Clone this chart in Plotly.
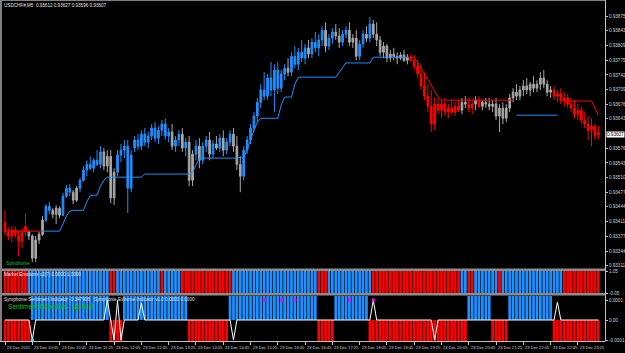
import plotly.graph_objects as go

W, H = 625, 353
FONT = "Liberation Sans"
BLUE, GRAY, RED = "#1E90FF", "#A8A8A8", "#FF0000"

# ---------------- data ----------------
time_labels = ["23 Dec 2011", "23 Dec 10:05", "23 Dec 10:45", "23 Dec 11:25", "23 Dec 12:05",
               "23 Dec 12:45", "23 Dec 13:25", "23 Dec 14:05", "23 Dec 14:45", "23 Dec 15:25",
               "23 Dec 16:05", "23 Dec 16:45", "23 Dec 17:25", "23 Dec 18:05", "23 Dec 18:45",
               "23 Dec 19:25", "23 Dec 20:05", "23 Dec 20:45", "23 Dec 21:25", "23 Dec 22:05",
               "23 Dec 22:45", "23 Dec 23:25"]
bars_per_label = 8

price_ticks = [0.93875, 0.93843, 0.93809, 0.93775, 0.93742, 0.93709, 0.93676, 0.93643,
               0.93576, 0.93543, 0.93510, 0.93477, 0.93444, 0.93411, 0.93377, 0.93344, 0.93311]
price_tick_text = ["0.93875", "0.93843", "0.93809", "0.93775", "0.93742", "0.93709", "0.93676", "0.93643",
                   "0.93576", "0.93543", "0.93510", "0.93477", "0.93444", "0.93411", "0.93377", "0.93344", "0.93311"]
last_price = 0.93607

opens = [0.93409, 0.93387, 0.93378, 0.93391, 0.93380, 0.93366, 0.93400, 0.93387, 0.93378, 0.93328,
         0.93369, 0.93382, 0.93414, 0.93445, 0.93436, 0.93427, 0.93441, 0.93425, 0.93468, 0.93486,
         0.93477, 0.93459, 0.93486, 0.93504, 0.93527, 0.93540, 0.93531, 0.93549, 0.93540, 0.93568,
         0.93536, 0.93558, 0.93464, 0.93522, 0.93561, 0.93572, 0.93581, 0.93486, 0.93577, 0.93595,
         0.93581, 0.93608, 0.93590, 0.93604, 0.93622, 0.93599, 0.93617, 0.93631, 0.93604, 0.93613,
         0.93581, 0.93595, 0.93608, 0.93577, 0.93590, 0.93504, 0.93563, 0.93581, 0.93549, 0.93581,
         0.93595, 0.93563, 0.93586, 0.93577, 0.93599, 0.93572, 0.93590, 0.93608, 0.93581, 0.93540,
         0.93513, 0.93572, 0.93595, 0.93622, 0.93649, 0.93680, 0.93708, 0.93694, 0.93735, 0.93708,
         0.93753, 0.93712, 0.93744, 0.93757, 0.93748, 0.93784, 0.93766, 0.93793, 0.93780, 0.93803,
         0.93789, 0.93816, 0.93803, 0.93821, 0.93843, 0.93807, 0.93825, 0.93839, 0.93830, 0.93816,
         0.93834, 0.93843, 0.93816, 0.93825, 0.93784, 0.93812, 0.93834, 0.93825, 0.93857, 0.93834,
         0.93821, 0.93793, 0.93807, 0.93780, 0.93789, 0.93784, 0.93780, 0.93787, 0.93775, 0.93782,
         0.93775, 0.93762, 0.93744, 0.93717, 0.93694, 0.93671, 0.93631, 0.93676, 0.93662, 0.93676,
         0.93658, 0.93667, 0.93658, 0.93671, 0.93662, 0.93680, 0.93676, 0.93667, 0.93676, 0.93685,
         0.93671, 0.93680, 0.93676, 0.93671, 0.93676, 0.93649, 0.93667, 0.93644, 0.93667, 0.93690,
         0.93703, 0.93694, 0.93708, 0.93717, 0.93708, 0.93721, 0.93712, 0.93721, 0.93735, 0.93721,
         0.93703, 0.93708, 0.93694, 0.93699, 0.93685, 0.93690, 0.93676, 0.93667, 0.93653, 0.93662,
         0.93640, 0.93631, 0.93617, 0.93626, 0.93612]
highs = [0.93436, 0.93396, 0.93400, 0.93400, 0.93391, 0.93396, 0.93430, 0.93391, 0.93382, 0.93378,
         0.93387, 0.93423, 0.93450, 0.93455, 0.93441, 0.93448, 0.93445, 0.93475, 0.93493, 0.93495,
         0.93482, 0.93491, 0.93509, 0.93536, 0.93549, 0.93558, 0.93554, 0.93572, 0.93581, 0.93577,
         0.93572, 0.93572, 0.93531, 0.93572, 0.93586, 0.93595, 0.93595, 0.93572, 0.93604, 0.93608,
         0.93617, 0.93622, 0.93613, 0.93631, 0.93635, 0.93626, 0.93640, 0.93644, 0.93622, 0.93631,
         0.93604, 0.93617, 0.93622, 0.93599, 0.93604, 0.93572, 0.93595, 0.93599, 0.93590, 0.93604,
         0.93613, 0.93595, 0.93604, 0.93608, 0.93617, 0.93599, 0.93617, 0.93622, 0.93604, 0.93558,
         0.93581, 0.93604, 0.93631, 0.93658, 0.93690, 0.93721, 0.93748, 0.93744, 0.93771, 0.93766,
         0.93771, 0.93753, 0.93766, 0.93780, 0.93793, 0.93807, 0.93803, 0.93821, 0.93812, 0.93821,
         0.93825, 0.93839, 0.93834, 0.93852, 0.93861, 0.93834, 0.93848, 0.93857, 0.93848, 0.93843,
         0.93852, 0.93861, 0.93834, 0.93843, 0.93821, 0.93843, 0.93852, 0.93873, 0.93866, 0.93861,
         0.93830, 0.93816, 0.93812, 0.93798, 0.93803, 0.93793, 0.93793, 0.93798, 0.93789, 0.93789,
         0.93787, 0.93775, 0.93766, 0.93748, 0.93721, 0.93708, 0.93690, 0.93690, 0.93685, 0.93690,
         0.93676, 0.93685, 0.93680, 0.93685, 0.93690, 0.93694, 0.93690, 0.93685, 0.93694, 0.93694,
         0.93685, 0.93690, 0.93690, 0.93685, 0.93690, 0.93676, 0.93680, 0.93676, 0.93699, 0.93712,
         0.93721, 0.93717, 0.93730, 0.93735, 0.93726, 0.93739, 0.93730, 0.93748, 0.93753, 0.93730,
         0.93717, 0.93717, 0.93708, 0.93712, 0.93703, 0.93699, 0.93690, 0.93685, 0.93676, 0.93671,
         0.93658, 0.93649, 0.93644, 0.93631, 0.93627]
lows = [0.93378, 0.93369, 0.93364, 0.93373, 0.93332, 0.93351, 0.93378, 0.93369, 0.93319, 0.93319,
        0.93360, 0.93378, 0.93409, 0.93427, 0.93418, 0.93405, 0.93418, 0.93423, 0.93464, 0.93468,
        0.93450, 0.93455, 0.93477, 0.93500, 0.93513, 0.93527, 0.93522, 0.93536, 0.93531, 0.93527,
        0.93522, 0.93452, 0.93448, 0.93513, 0.93545, 0.93554, 0.93430, 0.93477, 0.93568, 0.93572,
        0.93572, 0.93581, 0.93577, 0.93595, 0.93590, 0.93586, 0.93604, 0.93595, 0.93590, 0.93572,
        0.93568, 0.93581, 0.93568, 0.93558, 0.93491, 0.93491, 0.93549, 0.93531, 0.93540, 0.93568,
        0.93549, 0.93554, 0.93572, 0.93568, 0.93558, 0.93563, 0.93581, 0.93568, 0.93527, 0.93477,
        0.93504, 0.93563, 0.93586, 0.93613, 0.93635, 0.93667, 0.93685, 0.93685, 0.93694, 0.93658,
        0.93699, 0.93703, 0.93730, 0.93739, 0.93739, 0.93757, 0.93753, 0.93771, 0.93766, 0.93780,
        0.93780, 0.93793, 0.93784, 0.93807, 0.93793, 0.93798, 0.93812, 0.93821, 0.93803, 0.93807,
        0.93825, 0.93807, 0.93803, 0.93775, 0.93775, 0.93803, 0.93816, 0.93816, 0.93825, 0.93807,
        0.93784, 0.93780, 0.93771, 0.93771, 0.93775, 0.93766, 0.93775, 0.93771, 0.93766, 0.93771,
        0.93753, 0.93735, 0.93708, 0.93685, 0.93658, 0.93613, 0.93617, 0.93653, 0.93644, 0.93649,
        0.93644, 0.93653, 0.93649, 0.93658, 0.93653, 0.93667, 0.93658, 0.93653, 0.93662, 0.93667,
        0.93662, 0.93667, 0.93662, 0.93658, 0.93640, 0.93613, 0.93631, 0.93635, 0.93658, 0.93680,
        0.93685, 0.93685, 0.93694, 0.93699, 0.93694, 0.93703, 0.93703, 0.93708, 0.93712, 0.93694,
        0.93690, 0.93685, 0.93680, 0.93676, 0.93671, 0.93667, 0.93658, 0.93644, 0.93640, 0.93631,
        0.93622, 0.93595, 0.93581, 0.93595, 0.93596]
closes = [0.93387, 0.93378, 0.93391, 0.93380, 0.93366, 0.93387, 0.93387, 0.93378, 0.93328, 0.93369,
          0.93382, 0.93414, 0.93445, 0.93436, 0.93427, 0.93441, 0.93425, 0.93468, 0.93486, 0.93477,
          0.93459, 0.93486, 0.93504, 0.93527, 0.93540, 0.93531, 0.93549, 0.93540, 0.93568, 0.93536,
          0.93558, 0.93464, 0.93522, 0.93561, 0.93572, 0.93581, 0.93486, 0.93561, 0.93595, 0.93581,
          0.93608, 0.93590, 0.93604, 0.93622, 0.93599, 0.93617, 0.93631, 0.93604, 0.93613, 0.93581,
          0.93595, 0.93608, 0.93577, 0.93590, 0.93504, 0.93563, 0.93581, 0.93549, 0.93581, 0.93595,
          0.93563, 0.93586, 0.93577, 0.93599, 0.93572, 0.93590, 0.93608, 0.93581, 0.93540, 0.93513,
          0.93572, 0.93595, 0.93622, 0.93649, 0.93680, 0.93708, 0.93694, 0.93735, 0.93708, 0.93753,
          0.93712, 0.93744, 0.93757, 0.93748, 0.93784, 0.93766, 0.93793, 0.93780, 0.93803, 0.93789,
          0.93816, 0.93803, 0.93821, 0.93843, 0.93807, 0.93825, 0.93839, 0.93830, 0.93816, 0.93834,
          0.93843, 0.93816, 0.93825, 0.93784, 0.93812, 0.93834, 0.93825, 0.93857, 0.93834, 0.93821,
          0.93793, 0.93807, 0.93780, 0.93789, 0.93784, 0.93780, 0.93787, 0.93775, 0.93782, 0.93775,
          0.93762, 0.93744, 0.93717, 0.93694, 0.93671, 0.93631, 0.93676, 0.93662, 0.93676, 0.93658,
          0.93667, 0.93658, 0.93671, 0.93662, 0.93680, 0.93676, 0.93667, 0.93676, 0.93685, 0.93671,
          0.93680, 0.93676, 0.93671, 0.93676, 0.93649, 0.93667, 0.93644, 0.93667, 0.93690, 0.93703,
          0.93694, 0.93708, 0.93717, 0.93708, 0.93721, 0.93712, 0.93721, 0.93735, 0.93721, 0.93703,
          0.93708, 0.93694, 0.93699, 0.93685, 0.93690, 0.93676, 0.93667, 0.93653, 0.93662, 0.93640,
          0.93631, 0.93617, 0.93626, 0.93604, 0.93607]

# candle colour state (run-length): B = blue/up, G = gray/neutral, R = red/down
candle_runs = [("R", 7), ("G", 5), ("B", 2), ("G", 3), ("B", 3), ("G", 2), ("B", 7), ("G", 4), ("B", 3),
               ("B", 1), ("B", 12), ("G", 1), ("B", 2), ("G", 1), ("B", 1), ("G", 2), ("B", 1), ("G", 1),
               ("B", 2), ("G", 1), ("B", 1), ("G", 1), ("B", 1), ("G", 1), ("B", 2), ("G", 3), ("B", 13),
               ("G", 1), ("B", 5), ("G", 1), ("B", 4), ("G", 1), ("B", 2), ("G", 2), ("B", 2), ("G", 3),
               ("B", 2), ("G", 1), ("B", 1), ("G", 11), ("R", 15), ("G", 2), ("R", 2), ("G", 1), ("R", 1),
               ("G", 21), ("R", 14)]

# Symphonie trailing line
stop_line = [0.93389, 0.93389, 0.93389, 0.93389, 0.93389, 0.93389, 0.93389, 0.93389, 0.93389, 0.93389,
             0.93389, 0.93389, 0.93389, 0.93389, 0.93389, 0.93389, 0.93389, 0.93405, 0.93423, 0.93434,
             0.93436, 0.93436, 0.93436, 0.93436, 0.93455, 0.93470, 0.93470, 0.93470, 0.93491, 0.93504,
             0.93511, 0.93511, 0.93511, 0.93511, 0.93511, 0.93511, 0.93511, 0.93511, 0.93511, 0.93511,
             0.93511, 0.93518, 0.93518, 0.93518, 0.93518, 0.93518, 0.93518, 0.93518, 0.93518, 0.93518,
             0.93518, 0.93518, 0.93518, 0.93518, 0.93518, 0.93522, 0.93538, 0.93554, 0.93554, 0.93554,
             0.93554, 0.93554, 0.93554, 0.93554, 0.93554, 0.93554, 0.93554, 0.93554, 0.93554, 0.93556,
             0.93556, 0.93572, 0.93595, 0.93617, 0.93635, 0.93644, 0.93644, 0.93644, 0.93644, 0.93644,
             0.93644, 0.93674, 0.93692, 0.93692, 0.93692, 0.93721, 0.93737, 0.93737, 0.93737, 0.93737,
             0.93737, 0.93737, 0.93737, 0.93737, 0.93737, 0.93737, 0.93737, 0.93737, 0.93748, 0.93760,
             0.93769, 0.93769, 0.93769, 0.93769, 0.93769, 0.93769, 0.93769, 0.93769, 0.93782, 0.93782,
             0.93782, 0.93782, 0.93782, 0.93782, 0.93782, 0.93782, 0.93782, 0.93782, 0.93782, 0.93782,
             0.93780, 0.93771, 0.93757, 0.93744, 0.93730, 0.93717, 0.93703, 0.93692, 0.93685, 0.93685,
             0.93685, 0.93685, 0.93685, 0.93685, 0.93685, 0.93685, 0.93685, 0.93685, 0.93685, 0.93685,
             0.93685, 0.93685, 0.93685, 0.93685, 0.93685, 0.93685, 0.93685, 0.93685, 0.93685, 0.93685,
             0.93651, 0.93651, 0.93651, 0.93651, 0.93651, 0.93651, 0.93651, 0.93651, 0.93651, 0.93651,
             0.93651, 0.93651, 0.93651, 0.93683, 0.93683, 0.93683, 0.93683, 0.93683, 0.93683, 0.93683,
             0.93683, 0.93683, 0.93683, 0.93667, 0.93651]
stop_runs = [("D", 12), ("U", 107), ("D", 31), ("U", 13), ("D", 12)]

# Market Emotions state per bar
emotion_runs = [("R", 7), ("B", 24), ("R", 2), ("B", 13), ("R", 1), ("B", 5), ("R", 15), ("B", 25),
                ("R", 3), ("B", 13), ("R", 26), ("B", 2), ("R", 2), ("B", 7), ("R", 1), ("B", 18), ("R", 11)]

# Sentiment histogram direction per bar (+1 bull, -1 bear)
sentiment_runs = [(-1, 8), (1, 23), (-1, 4), (1, 19), (-1, 12), (1, 26), (-1, 5), (1, 10),
                  (-1, 29), (1, 7), (-1, 5), (1, 13), (-1, 14)]
# Sentiment indicator line: zero except these bars
sentiment_spikes = {8: -0.0001, 30: 0.0001, 32: -0.0001, 33: 0.0001, 34: -0.0001, 40: 0.000085,
                    67: -0.0001, 108: 0.0001, 126: -0.0001, 162: 0.00009}
extreme_bull_bars = [76, 81, 85, 101, 108]
extreme_bear_bars = [8]

# ---------------- build ----------------
def expand(runs):
    out = []
    for v, n in runs:
        out += [v] * n
    return out

candle_state = expand(candle_runs)
stop_state = expand(stop_runs)
emotion_state = expand(emotion_runs)
sentiment_dir = expand(sentiment_runs)
N = len(closes)
assert all(len(a) == N for a in [opens, highs, lows, candle_state, stop_line, stop_state,
                                  emotion_state, sentiment_dir])
bars = list(range(N))
sentiment_line = [sentiment_spikes.get(i, 0.0) for i in bars]

fig = go.Figure()

colmap = {"B": BLUE, "G": GRAY, "R": RED}
for key in ["G", "B", "R"]:
    idx = [i for i in bars if candle_state[i] == key]
    c = colmap[key]
    fig.add_trace(go.Candlestick(
        x=idx, open=[opens[i] for i in idx], high=[highs[i] for i in idx],
        low=[lows[i] for i in idx], close=[closes[i] for i in idx],
        increasing=dict(line=dict(color=c, width=1), fillcolor=c),
        decreasing=dict(line=dict(color=c, width=1), fillcolor=c),
        whiskerwidth=0, showlegend=False, hoverinfo="skip", xaxis="x", yaxis="y"))

# trailing line segments
start = 0
for i in range(1, N + 1):
    if i == N or stop_state[i] != stop_state[start]:
        s = start
        if s > 0 and stop_line[s - 1] == stop_line[s]:
            s -= 1
        xs = bars[s:i]
        fig.add_trace(go.Scatter(x=xs, y=stop_line[s:i], mode="lines",
                                 line=dict(color=BLUE if stop_state[start] == "U" else RED, width=1),
                                 showlegend=False, hoverinfo="skip", xaxis="x", yaxis="y"))
        start = i

# emotions histogram
EMO_LO, EMO_HI = -0.05, 1.05
fig.add_trace(go.Bar(x=bars, y=[EMO_HI - EMO_LO] * N, base=EMO_LO,
                     marker=dict(color=[colmap[s] for s in emotion_state], line=dict(width=0)),
                     showlegend=False, hoverinfo="skip", xaxis="x2", yaxis="y2"))

# sentiment histogram
S_LO, S_HI = -0.000105, 0.00012
fig.add_trace(go.Bar(x=bars, y=[S_HI if d > 0 else S_LO for d in sentiment_dir], base=0,
                     marker=dict(color=[BLUE if d > 0 else RED for d in sentiment_dir], line=dict(width=0)),
                     showlegend=False, hoverinfo="skip", xaxis="x3", yaxis="y3"))
fig.add_trace(go.Scatter(x=bars, y=sentiment_line, mode="lines", line=dict(color="#FFFFFF", width=1),
                         showlegend=False, hoverinfo="skip", xaxis="x3", yaxis="y3"))
fig.add_trace(go.Scatter(x=extreme_bull_bars, y=[0.0001] * len(extreme_bull_bars), mode="markers",
                         marker=dict(color="#FF00FF", size=3, symbol="square"),
                         showlegend=False, hoverinfo="skip", xaxis="x3", yaxis="y3"))
fig.add_trace(go.Scatter(x=extreme_bear_bars, y=[-0.0001] * len(extreme_bear_bars), mode="markers",
                         marker=dict(color="#00FFFF", size=3, symbol="square"),
                         showlegend=False, hoverinfo="skip", xaxis="x3", yaxis="y3"))

# ---------------- layout ----------------
def py(y):
    return 1 - y / H

def px(x):
    return x / W

XD = [px(2), px(605)]
xr = [-0.88, 175.95]
tick_bars = [k * bars_per_label for k in range(len(time_labels))]
axis_font = dict(family=FONT, size=4.6, color="#D0D0D0")

common_x = dict(domain=XD, range=xr, showgrid=False, zeroline=False, showline=False, fixedrange=True)
fig.update_layout(
    width=W, height=H, margin=dict(l=0, r=0, t=0, b=0),
    paper_bgcolor="#000000", plot_bgcolor="#000000",
    bargap=0.2, showlegend=False, template="none",
    xaxis=dict(**common_x, anchor="y", showticklabels=False, ticks="", rangeslider=dict(visible=False)),
    xaxis2=dict(**common_x, anchor="y2", showticklabels=False, ticks=""),
    xaxis3=dict(**common_x, anchor="y3", showticklabels=False, ticks="outside", ticklen=3,
                tickcolor="#C0C0C0", tickvals=tick_bars),
    yaxis=dict(domain=[py(267), py(1)], range=[0.93308, 0.93909], side="right", anchor="x",
               tickvals=price_ticks, ticktext=price_tick_text, ticks="outside", ticklen=2,
               tickcolor="#C0C0C0", tickfont=axis_font, showgrid=False, zeroline=False,
               automargin=False, fixedrange=True),
    yaxis2=dict(domain=[py(293), py(271)], range=[EMO_LO, EMO_HI], side="right", anchor="x2",
                tickvals=[1.05, -0.05], ticktext=["1.05", "-0.05"], ticks="outside", ticklen=2,
                tickcolor="#C0C0C0", tickfont=axis_font, showgrid=False, zeroline=False,
                automargin=False, fixedrange=True),
    yaxis3=dict(domain=[py(341), py(296)], range=[S_LO, S_HI], side="right", anchor="x3",
                tickvals=[0.0001, 0, -0.0001], ticktext=["0.0001", "0.00", "-0.0001"], ticks="outside",
                ticklen=2, tickcolor="#C0C0C0", tickfont=axis_font, showgrid=False, zeroline=False,
                automargin=False, fixedrange=True),
)

shapes = [
    dict(type="rect", xref="paper", yref="paper", x0=0, x1=px(605), y0=py(271), y1=py(268.5),
         fillcolor="#8C8C8C", line=dict(width=0)),
    dict(type="rect", xref="paper", yref="paper", x0=0, x1=px(605), y0=py(295.5), y1=py(293),
         fillcolor="#8C8C8C", line=dict(width=0)),
    dict(type="rect", xref="paper", yref="paper", x0=0, x1=px(2), y0=py(341), y1=1,
         fillcolor="#808080", line=dict(width=0)),
    dict(type="line", xref="paper", yref="paper", x0=0, x1=px(605), y0=py(0.5), y1=py(0.5),
         line=dict(color="#808080", width=1)),
    dict(type="line", xref="paper", yref="paper", x0=px(605.5), x1=px(605.5), y0=py(341), y1=1,
         line=dict(color="#C0C0C0", width=1)),
    dict(type="line", xref="paper", yref="paper", x0=0, x1=px(605.5), y0=py(341.5), y1=py(341.5),
         line=dict(color="#C0C0C0", width=1)),
]
fig.update_layout(shapes=shapes)

def ann(text, x, y, size, color, **kw):
    d = dict(text=text, x=px(x), y=py(y), xref="paper", yref="paper", xanchor="left",
             yanchor="middle", showarrow=False, font=dict(family=FONT, size=size, color=color))
    d.update(kw)
    return d

anns = [
    ann("USDCHF#,M5  0.93612 0.93627 0.93596 0.93607", 2, 5, 4.6, "#E0E0E0"),
    ann("Symphonie", 4, 263, 4.8, "#00C040"),
    ann("Market Emotions v2(7) 0.0000 1.0000", 2, 274.5, 4.6, "#E8E8E8"),
    ann("Symphonie Sentiment Indicator -0.347906   Symphonie Extreme Indicator v1.0 0.0000 0.0000",
        2, 299.5, 4.6, "#E0E0E0"),
    ann("Sentiment Direction - Up-Bull", 6, 306.5, 6.6, "#00C800"),
    ann("0.93607", 606, 134, 4.6, "#000000", bgcolor="#FFFFFF", borderpad=0),
]
for lab, b in zip(time_labels, tick_bars):
    anns.append(dict(text=lab, x=b, xref="x3", y=py(347.5), yref="paper", xanchor="left",
                     yanchor="middle", showarrow=False,
                     font=dict(family=FONT, size=4.1, color="#D0D0D0")))
fig.update_layout(annotations=anns)

fig.write_html("out.html")
